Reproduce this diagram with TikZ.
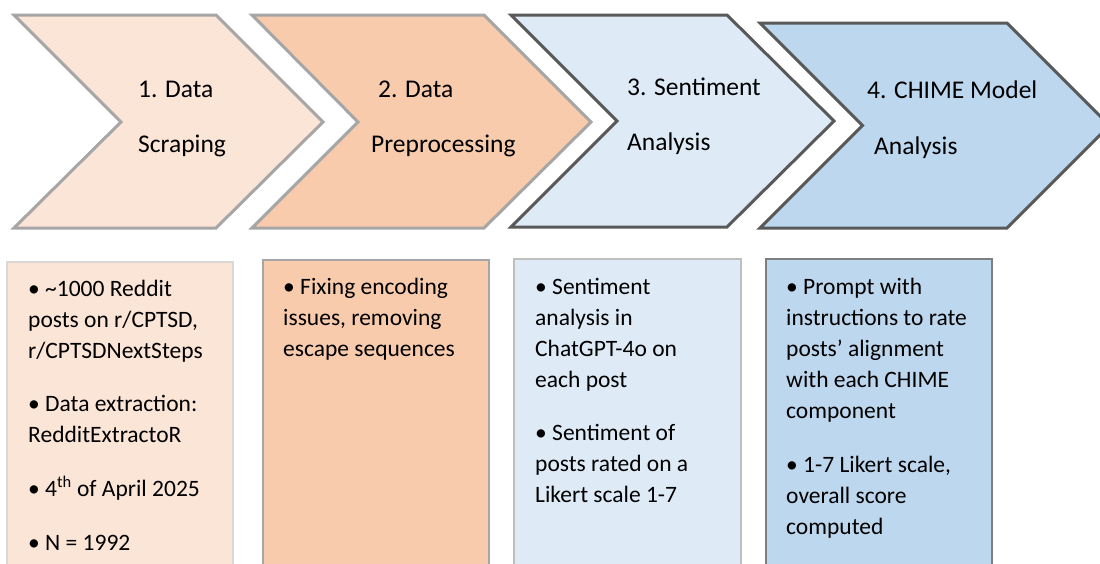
\documentclass[tikz,border=0pt]{standalone}
\usepackage{fontspec}
\setmainfont{Carlito}
\definecolor{peachL}{HTML}{FBE5D6}
\definecolor{peachD}{HTML}{F8CBAD}
\definecolor{blueL}{HTML}{DEEBF7}
\definecolor{blueD}{HTML}{BDD7EE}
\definecolor{edgeL}{HTML}{A6A6A6}
\definecolor{edgeD}{HTML}{595959}
\definecolor{boxA}{HTML}{D9D9D9}
\definecolor{boxB}{HTML}{A6A6A6}
\definecolor{boxC}{HTML}{BFBFBF}
\definecolor{boxD}{HTML}{7F7F7F}
\tikzset{
  chev/.style={line width=3pt, line join=miter},
  stage/.style={anchor=base west, inner sep=0pt, font=\fontsize{25.5}{30}\selectfont},
  infobox/.style={line width=1.5pt},
  infotext/.style={anchor=north west, inner sep=0pt, align=left, font=\fontsize{23.5}{31}\selectfont}
}
\newcommand{\firstline}{\rule{0pt}{17pt}}
\begin{document}
\begin{tikzpicture}[x=1pt,y=-1pt]
\useasboundingbox (0,0) rectangle (1100,563);
\clip (0,0) rectangle (1100,563);
\fill[white] (0,0) rectangle (1100,563);
% chevrons
\draw[chev, draw=edgeL, fill=peachL] (14,15) -- (216,15) -- (323,122) -- (216,228) -- (14,228) -- (121,122) -- cycle;
\draw[chev, draw=edgeL, fill=peachD] (252,15) -- (484,15) -- (591,122) -- (484,228) -- (252,228) -- (358,122) -- cycle;
\draw[chev, draw=edgeD, fill=blueL] (511,15) -- (727,15) -- (834,121) -- (727,227) -- (511,227) -- (617,121) -- cycle;
\draw[chev, draw=edgeD, fill=blueD] (760,23) -- (1007,23) -- (1109.5,125.5) -- (1007,228) -- (760,228) -- (862.5,125.5) -- cycle;
% chevron labels
\node[stage] (c1a) at (138,97) {1. Data};
\node[stage] (c1b) at (138,152) {Scraping};
\node[stage] (c2a) at (378,97) {2. Data};
\node[stage] (c2b) at (371,152) {Preprocessing};
\node[stage] (c3a) at (627,95) {3. Sentiment};
\node[stage] (c3b) at (627,150) {Analysis};
\node[stage] (c4a) at (867,98) {4. CHIME Model};
\node[stage] (c4b) at (874,154) {Analysis};
% boxes
\draw[infobox, draw=boxA, fill=peachL] (7,262) rectangle (233,590);
\draw[infobox, draw=boxB, fill=peachD] (263,260) rectangle (489,590);
\draw[infobox, draw=boxC, fill=blueL] (514,259) rectangle (741,590);
\draw[infobox, draw=boxD, fill=blueD] (766,259) rectangle (992,590);
% box texts
\node[infotext] (t1) at (28,279) {\firstline• \textasciitilde1000 Reddit\\posts on r/CPTSD,\\r/CPTSDNextSteps\\[22pt]• Data extraction:\\RedditExtractoR\\[23pt]• 4\textsuperscript{th} of April 2025\\[23pt]• N = 1992};
\node[infotext] (t2) at (283,277) {\firstline• Fixing encoding\\issues, removing\\escape sequences};
\node[infotext] (t3) at (535,277) {\firstline• Sentiment\\analysis in\\ChatGPT-4o on\\each post\\[22pt]• Sentiment of\\posts rated on a\\Likert scale 1-7};
\node[infotext] (t4) at (786,277) {\firstline• Prompt with\\instructions to rate\\posts’ alignment\\with each CHIME\\component\\[23pt]• 1-7 Likert scale,\\overall score\\computed};
\end{tikzpicture}
\end{document}
